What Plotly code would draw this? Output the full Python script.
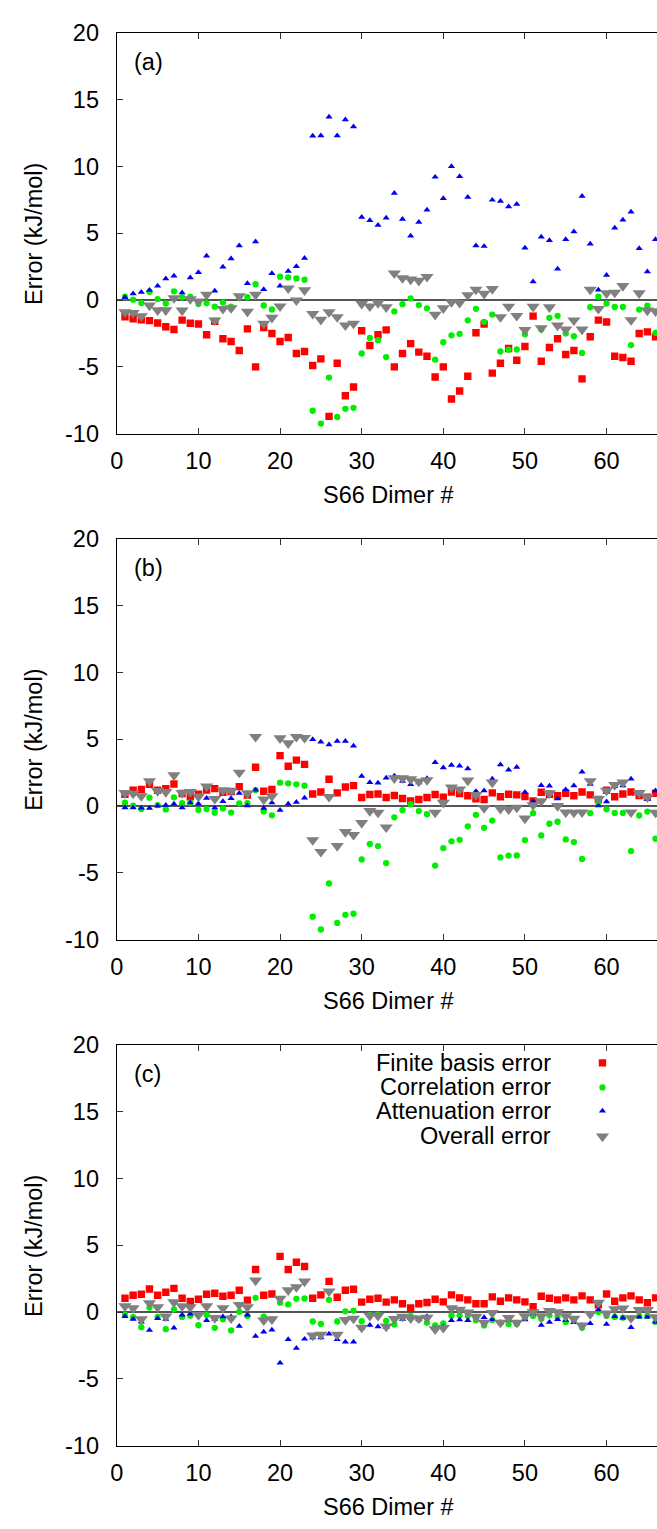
import plotly.graph_objects as go

dimer = list(range(1, 67))

# Panel (a)
a_finite = [-1.25, -1.4, -1.47, -1.54, -1.72, -2.0, -2.2, -1.5, -1.74, -1.79, -2.6, -1.6, -2.9, -3.1, -3.77, -2.16, -5.0, -2.06, -2.5, -3.1, -2.8, -4.0, -3.85, -4.9, -4.4, -8.7, -4.73, -7.16, -6.5, -2.3, -3.4, -2.6, -2.23, -5.0, -4.0, -3.26, -3.9, -4.2, -5.76, -5.0, -7.4, -6.8, -5.7, -2.45, -1.8, -5.47, -4.73, -3.63, -4.5, -3.48, -1.2, -4.58, -3.55, -2.9, -4.07, -3.77, -5.9, -2.75, -1.5, -1.64, -4.2, -4.3, -4.58, -2.5, -2.38, -2.75]
a_corr = [0.25, 0.03, -0.22, 0.62, 0.07, -0.26, 0.65, 0.21, 0.25, -0.3, -0.23, -0.5, -0.18, -0.49, 0.2, 0.21, 1.18, -0.41, -0.7, 1.74, 1.69, 1.62, 1.52, -8.28, -9.24, -5.8, -8.75, -8.14, -8.06, -4.0, -2.84, -3.0, -4.27, -0.85, -0.31, 0.12, -0.38, -0.62, -4.46, -3.15, -2.64, -2.53, -1.52, -0.66, -1.63, -1.09, -3.85, -3.71, -3.7, -2.55, -0.54, -2.2, -1.33, -1.18, -2.5, -2.7, -3.96, -0.54, 0.25, -0.25, -0.52, -0.52, -3.37, -0.71, -0.42, -2.45]
a_atten = [0.2, 0.47, 0.59, 0.74, 1.05, 1.6, 1.8, 0.56, 1.67, 2.06, 3.3, 0.69, 2.48, 3.1, 4.07, 1.25, 4.36, 0.8, 2.0, 1.05, 2.16, 2.52, 3.14, 12.28, 12.3, 13.7, 12.3, 13.5, 12.97, 6.2, 5.96, 5.6, 6.15, 8.0, 6.05, 4.8, 5.83, 6.74, 9.2, 7.6, 10.0, 9.24, 7.7, 4.07, 4.02, 7.48, 7.4, 6.99, 7.18, 3.9, 1.37, 4.73, 4.46, 2.33, 4.53, 5.12, 7.77, 4.2, 0.76, 1.86, 5.4, 6.0, 6.6, 3.87, 2.13, 4.53]
a_overall = [-0.9, -0.96, -1.2, -0.4, -0.76, -0.76, 0.15, -0.78, 0.07, -0.1, 0.4, -1.52, -0.66, -0.6, 0.3, -0.86, 0.4, -1.76, -1.32, -0.47, 0.88, -0.02, 0.74, -1.03, -1.47, -0.9, -1.27, -1.89, -1.76, -0.27, -0.47, -0.22, -0.54, 2.0, 1.64, 1.54, 1.45, 1.74, -1.1, -0.61, -0.15, -0.2, 0.37, 0.78, 0.47, 0.83, -1.27, -0.49, -1.18, -2.23, -0.49, -2.1, -0.54, -1.9, -2.2, -1.52, -2.2, 0.78, -0.66, 0.51, 0.56, 1.05, -1.5, 0.51, -0.78, -0.83]

# Panel (b)
b_finite = [0.88, 1.18, 1.23, 1.62, 1.18, 1.3, 1.64, 0.93, 0.69, 0.88, 1.2, 1.3, 1.03, 1.08, 1.45, 0.81, 2.9, 1.1, 1.23, 3.77, 2.97, 3.43, 3.11, 0.9, 1.05, 2.0, 0.98, 1.42, 1.52, 0.64, 0.86, 0.9, 0.64, 0.78, 0.56, 0.37, 0.49, 0.64, 0.86, 0.66, 1.05, 0.93, 0.76, 0.54, 0.49, 0.98, 0.69, 0.88, 0.83, 0.71, 0.37, 1.03, 0.88, 0.76, 0.95, 0.76, 1.05, 0.83, 0.49, 1.18, 0.69, 0.9, 1.05, 0.78, 0.66, 0.95]
b_corr = [0.25, 0.03, -0.22, 0.62, 0.07, -0.26, 0.65, 0.21, 0.25, -0.3, -0.23, -0.5, -0.18, -0.49, 0.2, 0.21, 1.18, -0.41, -0.7, 1.74, 1.69, 1.62, 1.52, -8.28, -9.24, -5.8, -8.75, -8.14, -8.06, -4.0, -2.84, -3.0, -4.27, -0.85, -0.31, 0.12, -0.38, -0.62, -4.46, -3.15, -2.64, -2.53, -1.52, -0.66, -1.63, -1.09, -3.85, -3.71, -3.7, -2.55, -0.54, -2.2, -1.33, -1.18, -2.5, -2.7, -3.96, -0.54, 0.25, -0.25, -0.52, -0.52, -3.37, -0.71, -0.42, -2.45]
b_atten = [-0.12, -0.12, -0.15, -0.17, 0.0, 0.07, 0.15, -0.12, 0.25, 0.17, 0.59, -0.15, 0.34, 0.56, 0.96, 0.02, 1.2, -0.17, 0.25, -0.32, 0.15, 0.29, 0.61, 4.98, 4.8, 4.58, 4.85, 4.85, 4.5, 2.23, 1.76, 1.72, 2.1, 2.25, 1.86, 1.62, 1.75, 2.06, 3.26, 2.87, 3.06, 2.99, 2.8, 1.1, 1.15, 2.03, 3.09, 2.7, 2.9, 1.03, 0.32, 1.54, 1.5, 0.54, 1.23, 1.52, 2.55, 1.64, 0.02, 0.32, 1.47, 1.52, 2.03, 0.86, 0.49, 1.15]
b_overall = [0.98, 0.93, 0.74, 1.86, 1.13, 1.05, 2.3, 0.98, 1.05, 0.71, 1.47, 0.54, 1.18, 1.13, 2.5, 0.96, 5.17, 0.49, 0.74, 5.07, 4.7, 5.17, 5.1, -2.55, -3.43, 0.69, -2.99, -1.94, -2.16, -1.27, -0.37, -0.49, -1.6, 2.08, 2.08, 2.0, 1.84, 1.94, -0.49, 0.25, 1.4, 1.25, 1.91, 0.83, -0.15, 1.76, -0.2, -0.25, -0.12, -0.93, 0.07, 0.37, 0.96, 0.0, -0.47, -0.49, -0.47, 1.86, 0.54, 1.15, 1.57, 1.76, -0.47, 0.98, 0.66, -0.49]

# Panel (c)
c_finite = [1.03, 1.26, 1.33, 1.72, 1.26, 1.48, 1.77, 1.03, 0.79, 0.96, 1.33, 1.4, 1.18, 1.26, 1.63, 0.89, 3.18, 1.26, 1.35, 4.16, 3.18, 3.72, 3.4, 1.03, 1.28, 2.29, 1.11, 1.63, 1.7, 0.74, 0.96, 1.03, 0.74, 0.91, 0.62, 0.3, 0.62, 0.71, 0.96, 0.76, 1.28, 1.06, 0.91, 0.62, 0.62, 1.13, 0.81, 1.06, 0.91, 0.76, 0.39, 1.18, 1.03, 0.91, 1.06, 0.91, 1.21, 0.91, 0.54, 1.35, 0.81, 1.06, 1.21, 0.91, 0.69, 1.06]
c_corr = [-0.2, -0.39, -1.13, 0.34, -0.37, -1.28, 0.2, -0.37, -0.27, -0.99, -0.22, -1.18, -0.54, -1.38, 0.02, -0.3, 1.06, -0.34, -0.56, 0.69, 0.57, 0.99, 1.01, -0.71, -0.89, 0.91, -0.71, 0.05, 0.1, -0.69, -0.24, -0.2, -0.66, -0.93, -0.42, -0.3, -0.55, -0.8, -1.0, -0.85, -0.26, -0.26, -0.3, -0.62, -1.0, -0.6, -0.8, -0.9, -0.9, -0.44, -0.29, -0.51, -0.25, -0.35, -0.74, -0.62, -1.18, -0.17, 0.0, -0.29, -0.37, -0.42, -0.47, -0.29, -0.29, -0.74]
c_atten = [-0.32, -0.54, -0.74, -1.35, -0.47, -0.54, -1.18, -0.22, -0.15, -0.2, -0.62, -0.54, -0.34, -0.35, -1.06, -0.22, -1.8, -1.48, -1.33, -3.8, -2.04, -2.71, -2.02, -1.92, -1.92, -1.63, -2.04, -2.24, -2.24, -1.2, -0.99, -1.1, -1.15, -0.5, -0.54, -0.47, -0.54, -0.33, -1.24, -1.09, -0.62, -0.58, -0.63, -0.34, -0.4, -0.56, -0.8, -0.6, -0.8, -0.57, -0.13, -0.98, -0.75, -0.56, -0.6, -0.78, -1.0, -0.86, 0.17, -0.9, -0.32, -0.44, -1.15, -0.37, -0.37, -0.74]
c_overall = [0.44, 0.3, -0.54, 0.67, 0.37, -0.32, 0.74, 0.44, 0.37, -0.22, 0.44, -0.44, 0.3, -0.47, 0.54, 0.37, 2.36, -0.62, -0.54, 1.01, 1.63, 1.87, 2.29, -1.75, -1.7, 1.55, -1.7, -0.59, -0.49, -1.16, -0.27, -0.27, -1.08, -0.52, -0.34, -0.47, -0.47, -0.42, -1.28, -1.18, 0.3, 0.17, -0.02, -0.34, -0.79, -0.07, -0.79, -0.44, -0.79, -0.3, 0.0, -0.3, 0.08, 0.0, -0.3, -0.5, -1.0, -0.14, 0.7, -0.1, 0.22, 0.28, -0.45, 0.16, 0.16, -0.38]

panel_labels = ["(a)", "(b)", "(c)"]
series_names = ["Finite basis error", "Correlation error", "Attenuation error", "Overall error"]
x_ticks = [0, 10, 20, 30, 40, 50, 60]
y_ticks = [-10, -5, 0, 5, 10, 15, 20]
y_ticktext = ["-10", "-5", "0", "5", "10", "15", "20"]

W, H = 657, 1529
FONT = "Liberation Sans, Arial, Helvetica, sans-serif"
FS = 23.5

styles = [
    dict(symbol="square", size=7.4, color="#ff0000"),
    dict(symbol="circle", size=6.3, color="#00ee00"),
    dict(symbol="triangle-up", size=6.3, color="#0000ee"),
    dict(symbol="triangle-down", size=11.5, color="#808080"),
]

panels = [
    (a_finite, a_corr, a_atten, a_overall),
    (b_finite, b_corr, b_atten, b_overall),
    (c_finite, c_corr, c_atten, c_overall),
]

# pixel geometry (top / bottom of each plot area)
x_left = 111
tops = [20, 534.7, 1049.5]
bottoms = [428, 942.7, 1457.5]

fig = go.Figure()
annotations = []

for p, series in enumerate(panels):
    xa = "x" if p == 0 else f"x{p+1}"
    ya = "y" if p == 0 else f"y{p+1}"
    for s, vals in enumerate(series):
        st = styles[s]
        fig.add_trace(go.Scatter(
            x=dimer, y=vals, mode="markers", xaxis=xa, yaxis=ya,
            name=series_names[s], showlegend=False,
            marker=dict(symbol=st["symbol"], size=st["size"], color=st["color"],
                        line=dict(width=0)),
        ))
    dom_y = [1 - bottoms[p] / H, 1 - tops[p] / H]
    axis_x = dict(
        domain=[x_left / W, 1.0], range=[0, (W - x_left) / 8.25],
        tickvals=x_ticks, ticks="inside", ticklen=6, tickwidth=1, tickcolor="#333",
        showline=True, linecolor="black", linewidth=1.3, mirror="ticks",
        showgrid=False, zeroline=False, anchor=ya,
        tickfont=dict(family=FONT, size=FS, color="black"),
        ticklabelstandoff=6,
    )
    axis_y = dict(
        domain=dom_y, range=[-10, 20],
        tickvals=y_ticks, ticktext=y_ticktext, ticks="inside", ticklen=6, tickwidth=1,
        tickcolor="#333", showline=True, linecolor="black", linewidth=1.3,
        showgrid=False, zeroline=True, zerolinecolor="#555", zerolinewidth=1.5,
        anchor=xa, tickfont=dict(family=FONT, size=FS, color="black"),
        ticklabelstandoff=12,
    )
    key = "" if p == 0 else str(p + 1)
    fig.update_layout(**{f"xaxis{key}": axis_x, f"yaxis{key}": axis_y})

    mid = (tops[p] + bottoms[p]) / 2
    annotations.append(dict(
        text="Error (kJ/mol)", textangle=-90, x=27 / W, y=1 - (mid + 1) / H,
        xref="paper", yref="paper", showarrow=False, xanchor="center", yanchor="middle",
        font=dict(family=FONT, size=FS, color="black")))
    annotations.append(dict(
        text="S66 Dimer #", x=386 / W, y=1 - (bottoms[p] + 62) / H,
        xref="paper", yref="paper", showarrow=False, xanchor="center", yanchor="middle",
        font=dict(family=FONT, size=FS, color="black")))
    annotations.append(dict(
        text=panel_labels[p], x=126 / W, y=1 - (tops[p] + 30) / H,
        xref="paper", yref="paper", showarrow=False, xanchor="left", yanchor="middle",
        font=dict(family=FONT, size=FS, color="black")))

# Key inside panel (c): text on the left, symbol on the right
key_y = [18.64, 16.8, 15.04, 13.13]
key_text_x = 53.45
key_mark_x = 59.5
for s in range(4):
    st = styles[s]
    fig.add_trace(go.Scatter(
        x=[key_mark_x], y=[key_y[s]], mode="markers", xaxis="x3", yaxis="y3",
        showlegend=False, hoverinfo="skip",
        marker=dict(symbol=st["symbol"], size=st["size"], color=st["color"], line=dict(width=0)),
    ))
    annotations.append(dict(
        text=series_names[s], x=key_text_x, y=key_y[s], xref="x3", yref="y3",
        showarrow=False, xanchor="right", yanchor="middle",
        font=dict(family=FONT, size=FS, color="black")))

fig.update_layout(
    width=W, height=H, margin=dict(l=0, r=0, t=0, b=0),
    paper_bgcolor="white", plot_bgcolor="white",
    annotations=annotations, showlegend=False,
)

fig.write_html("out.html", config={"displayModeBar": False},
               post_script="document.body.style.margin='0px';")
